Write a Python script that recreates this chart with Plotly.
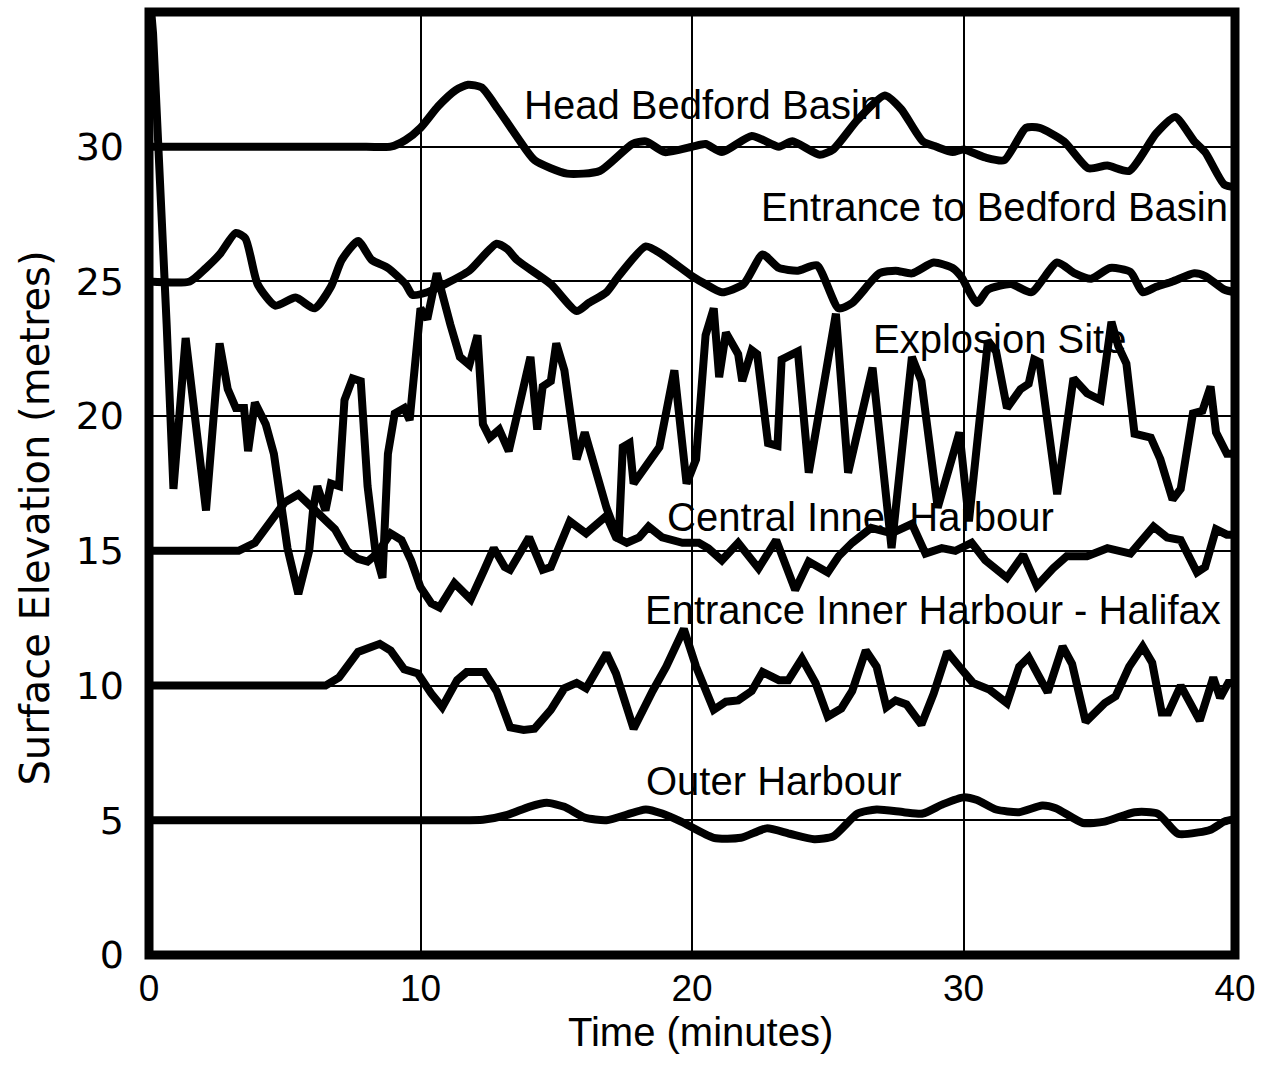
import plotly.graph_objects as go

# Surface elevation time series at six locations in Halifax Harbour.
# Each station is offset by 5 m so the traces stack vertically.

head_bedford_t = [0, 8.0, 8.9, 9.45, 10.0, 10.65, 11.3, 11.75, 12.25, 12.85, 13.6, 14.2, 15.4, 16.6,
                  17.8, 18.3, 19.0, 20.0, 20.5, 21.1, 22.2, 23.2, 23.7, 24.7, 25.2, 26.1, 27.1,
                  27.7, 28.5, 29.0, 29.6, 30.0, 30.8, 31.5, 32.3, 32.8, 33.7, 34.6, 35.3, 36.1,
                  37.1, 37.8, 38.5, 38.9, 39.6, 40.0]
head_bedford_v = [30, 30, 30, 30.25, 30.7, 31.5, 32.1, 32.3, 32.2, 31.4, 30.3, 29.5, 29.0, 29.1,
                  30.1, 30.2, 29.8, 30.0, 30.1, 29.8, 30.4, 30.0, 30.2, 29.7, 29.9, 31.0, 31.9,
                  31.4, 30.2, 30.0, 29.8, 29.9, 29.6, 29.5, 30.7, 30.7, 30.2, 29.2, 29.3, 29.1,
                  30.5, 31.1, 30.2, 29.8, 28.6, 28.5]

entrance_bedford_t = [0, 1.5, 2.1, 2.6, 3.2, 3.55, 4.0, 4.65, 5.4, 6.1, 6.7, 7.1, 7.7, 8.2, 8.8,
                      9.45, 9.7, 10.25, 10.9, 11.8, 12.8, 13.2, 13.55, 14.8, 15.75, 16.2, 16.85,
                      17.3, 18.3, 18.9, 20.0, 20.5, 21.1, 21.9, 22.6, 23.2, 23.9, 24.6, 25.4,
                      25.9, 26.9, 27.5, 28.1, 28.9, 29.6, 29.9, 30.5, 30.9, 31.75, 32.5, 33.45,
                      34.1, 34.7, 35.4, 36.15, 36.6, 37.1, 37.7, 38.5, 38.9, 39.6, 40.0]
entrance_bedford_v = [25, 25, 25.5, 26.0, 26.8, 26.6, 24.9, 24.1, 24.4, 24.0, 24.8, 25.8, 26.5,
                      25.8, 25.5, 24.9, 24.5, 24.6, 24.9, 25.4, 26.4, 26.2, 25.8, 24.9, 23.9,
                      24.2, 24.6, 25.2, 26.3, 26.0, 25.2, 24.9, 24.6, 24.9, 26.0, 25.5, 25.4,
                      25.6, 24.0, 24.2, 25.3, 25.4, 25.3, 25.7, 25.5, 25.2, 24.2, 24.7, 24.9,
                      24.6, 25.7, 25.3, 25.1, 25.5, 25.35, 24.6, 24.8, 25.0, 25.3, 25.2, 24.7, 24.6]

explosion_t = [0, 0.15, 0.65, 0.9, 1.35, 1.8, 2.1, 2.6, 2.9, 3.2, 3.5, 3.65, 3.9, 4.3, 4.6,
               4.9, 5.1, 5.5, 5.9, 6.05, 6.2, 6.5, 6.7, 7.0, 7.2, 7.5, 7.8, 8.05, 8.35, 8.6,
               8.8, 9.05, 9.4, 9.6, 9.8, 10.0, 10.25, 10.6, 11.1, 11.45, 11.8, 12.1, 12.3,
               12.55, 12.9, 13.25, 14.05, 14.3, 14.5, 14.8, 15.0, 15.3, 15.75, 16.05, 16.85,
               17.3, 17.45, 17.7, 17.85, 18.2, 18.55, 18.8, 19.35, 19.8, 20.15, 20.5, 20.8,
               21.0, 21.25, 21.7, 21.85, 22.2, 22.4, 22.8, 23.15, 23.3, 23.9, 24.3, 25.3,
               25.75, 26.65, 27.1, 27.35, 28.1, 28.45, 29.05, 29.7, 29.85, 30.2, 30.9, 31.2,
               31.6, 32.1, 32.4, 32.6, 32.8, 33.45, 34.05, 34.55, 35.05, 35.45, 35.7, 36.0,
               36.3, 36.9, 37.25, 37.7, 38.0, 38.45, 38.8, 39.1, 39.3, 39.7, 40.0]
explosion_v = [36, 34.2, 23.4, 17.3, 22.9, 18.85, 16.5, 22.7, 21.0, 20.3, 20.3, 18.7, 20.5,
               19.7, 18.6, 16.5, 15.1, 13.4, 15.0, 16.6, 17.4, 16.5, 17.5, 17.4, 20.6, 21.4,
               21.3, 17.4, 14.9, 14.0, 18.6, 20.1, 20.3, 19.85, 21.7, 24.0, 23.6, 25.3, 23.4,
               22.2, 21.9, 23.0, 19.7, 19.2, 19.5, 18.7, 22.2, 19.5, 21.1, 21.3, 22.7, 21.7,
               18.4, 19.4, 16.6, 15.4, 18.85, 19.0, 17.5, 18.0, 18.4, 18.85, 21.7, 17.5, 18.4,
               23.0, 24.0, 21.45, 23.1, 22.3, 21.3, 22.45, 22.3, 19.0, 18.9, 22.1, 22.4, 17.9,
               23.8, 17.9, 21.8, 17.9, 15.1, 22.2, 21.3, 16.6, 18.85, 19.4, 16.1, 22.8, 22.4,
               20.3, 21.0, 21.2, 22.1, 22.0, 17.1, 21.4, 20.85, 20.6, 23.5, 22.6, 21.95, 19.35,
               19.2, 18.4, 16.9, 17.3, 20.1, 20.2, 21.1, 19.4, 18.6, 18.6]

central_inner_t = [0, 3.3, 3.9, 4.5, 5.0, 5.5, 6.2, 6.85, 7.3, 7.7, 8.05, 8.4, 8.9, 9.3, 9.65,
                   10.0, 10.4, 10.7, 11.25, 11.85, 12.35, 12.7, 13.1, 13.3, 14.0, 14.5, 14.8,
                   15.5, 16.1, 16.85, 17.2, 17.6, 18.05, 18.4, 18.9, 19.65, 20.25, 20.6, 21.1,
                   21.7, 22.45, 23.1, 23.8, 24.3, 25.0, 25.4, 25.9, 26.6, 27.35, 28.1, 28.6,
                   29.2, 29.7, 30.3, 30.8, 31.6, 32.2, 32.7, 33.3, 33.8, 34.55, 35.3, 36.15,
                   37.0, 37.5, 38.0, 38.6, 38.9, 39.3, 39.7, 40.0]
central_inner_v = [15, 15, 15.3, 16.1, 16.8, 17.1, 16.4, 15.8, 15.0, 14.7, 14.6, 14.9, 15.65,
                   15.4, 14.65, 13.65, 13.05, 12.9, 13.8, 13.2, 14.3, 15.1, 14.4, 14.3, 15.5,
                   14.3, 14.4, 16.1, 15.65, 16.3, 15.5, 15.3, 15.5, 15.9, 15.5, 15.3, 15.3,
                   15.1, 14.65, 15.3, 14.35, 15.4, 13.55, 14.6, 14.2, 14.8, 15.3, 15.85, 15.65,
                   16.0, 14.9, 15.1, 15.0, 15.3, 14.65, 14.0, 14.85, 13.7, 14.35, 14.8, 14.8,
                   15.1, 14.9, 15.9, 15.5, 15.4, 14.2, 14.4, 15.8, 15.6, 15.6]

entrance_inner_t = [0, 6.5, 7.0, 7.7, 8.5, 8.9, 9.4, 9.9, 10.4, 10.8, 11.35, 11.7, 12.35, 12.8,
                    13.3, 13.8, 14.2, 14.8, 15.3, 15.75, 16.1, 16.85, 17.2, 17.85, 18.55, 19.05,
                    19.7, 20.15, 20.8, 21.25, 21.7, 22.2, 22.6, 23.2, 23.55, 24.05, 24.55, 25.0,
                    25.5, 25.9, 26.4, 26.8, 27.16, 27.5, 27.9, 28.45, 28.9, 29.4, 29.85, 30.35,
                    30.95, 31.6, 32.05, 32.4, 32.8, 33.1, 33.65, 34.0, 34.5, 35.2, 35.6, 36.1,
                    36.6, 36.95, 37.3, 37.55, 38.0, 38.7, 39.2, 39.45, 39.75, 40.0]
entrance_inner_v = [10, 10, 10.3, 11.25, 11.55, 11.3, 10.6, 10.45, 9.7, 9.2, 10.2, 10.5, 10.5,
                    9.8, 8.45, 8.35, 8.4, 9.1, 9.9, 10.1, 9.9, 11.2, 10.45, 8.4, 9.8, 10.7,
                    12.1, 10.7, 9.1, 9.4, 9.45, 9.8, 10.5, 10.2, 10.2, 11.0, 10.1, 8.85, 9.15,
                    9.8, 11.3, 10.7, 9.2, 9.45, 9.3, 8.55, 9.7, 11.25, 10.7, 10.1, 9.85, 9.35,
                    10.7, 11.05, 10.3, 9.75, 11.45, 10.8, 8.65, 9.35, 9.6, 10.7, 11.45, 10.85,
                    9.0, 9.0, 10.0, 8.7, 10.3, 9.55, 10.1, 10.1]

outer_t = [0, 11.3, 12.3, 13.2, 14.0, 14.65, 15.3, 16.05, 16.85, 18.3, 18.9, 19.6, 20.8, 21.8,
           22.75, 23.6, 24.5, 25.2, 26.1, 26.8, 27.8, 28.5, 29.25, 30.0, 30.5, 31.2, 32.05,
           32.9, 33.4, 34.4, 35.2, 36.3, 37.15, 37.9, 38.65, 39.1, 39.6, 40.0]
outer_v = [5, 5, 5.02, 5.2, 5.5, 5.65, 5.5, 5.1, 5.0, 5.4, 5.25, 4.95, 4.35, 4.35, 4.7, 4.5,
           4.3, 4.4, 5.25, 5.4, 5.3, 5.25, 5.6, 5.85, 5.75, 5.4, 5.3, 5.55, 5.45, 4.9, 4.95,
           5.3, 5.25, 4.5, 4.55, 4.65, 4.95, 5.05]

station_names = ["Head Bedford Basin", "Entrance to Bedford Basin", "Explosion Site",
                 "Central Inner Harbour", "Entrance Inner Harbour - Halifax", "Outer Harbour"]
label_t = [13.75, 22.45, 26.6, 19.0, 18.2, 18.25]
label_v = [31.55, 27.75, 22.85, 16.25, 12.8, 6.45]

x_ticks = [0, 10, 20, 30, 40]
y_ticks = [0, 5, 10, 15, 20, 25, 30]

series = [
    (head_bedford_t, head_bedford_v, "spline"),
    (entrance_bedford_t, entrance_bedford_v, "spline"),
    (explosion_t, explosion_v, "linear"),
    (central_inner_t, central_inner_v, "linear"),
    (entrance_inner_t, entrance_inner_v, "linear"),
    (outer_t, outer_v, "spline"),
]

FONT = "Liberation Sans, Arial, Helvetica, sans-serif"
WIDE_FONT = "DejaVu Sans, Verdana, sans-serif"

fig = go.Figure()
for (t, v, shape), name in zip(series, station_names):
    fig.add_trace(go.Scatter(
        x=t, y=v, mode="lines", name=name,
        line=dict(color="black", width=8, shape=shape, smoothing=0.6),
        showlegend=False,
    ))

annotations = []
for name, lt, lv in zip(station_names, label_t, label_v):
    annotations.append(dict(
        x=lt, y=lv, xref="x", yref="y", text=name, showarrow=False,
        xanchor="left", yanchor="middle",
        font=dict(family=FONT, size=40, color="black"),
    ))

annotations.append(dict(
    x=20.3, y=0, xref="x", yref="paper", yanchor="middle", yshift=-77,
    text="Time (minutes)", showarrow=False,
    font=dict(family=FONT, size=40, color="black"),
))
annotations.append(dict(
    x=0, y=16.2, xref="paper", yref="y", xanchor="center", xshift=-114,
    text="Surface Elevation (metres)", textangle=-90, showarrow=False,
    font=dict(family=WIDE_FONT, size=40, color="black"),
))

fig.update_layout(
    width=1268, height=1066,
    margin=dict(l=149, r=28, t=12, b=111),
    paper_bgcolor="white", plot_bgcolor="white",
    annotations=annotations,
    shapes=[dict(type="rect", xref="paper", yref="paper", x0=0, y0=0, x1=1, y1=1,
                 line=dict(color="black", width=9), layer="above")],
    font=dict(family=FONT, color="black"),
)
fig.update_xaxes(
    range=[0, 40], tickvals=x_ticks, ticks="", showline=False, zeroline=False,
    showgrid=True, gridcolor="black", gridwidth=1.5,
    tickfont=dict(family=FONT, size=37, color="black"), ticklabelstandoff=8,
)
fig.update_yaxes(
    range=[0, 35], tickvals=y_ticks, ticks="", showline=False, zeroline=False,
    showgrid=True, gridcolor="black", gridwidth=1.5,
    tickfont=dict(family=WIDE_FONT, size=38, color="black"), ticklabelstandoff=24,
)

fig.write_html("out.html")
